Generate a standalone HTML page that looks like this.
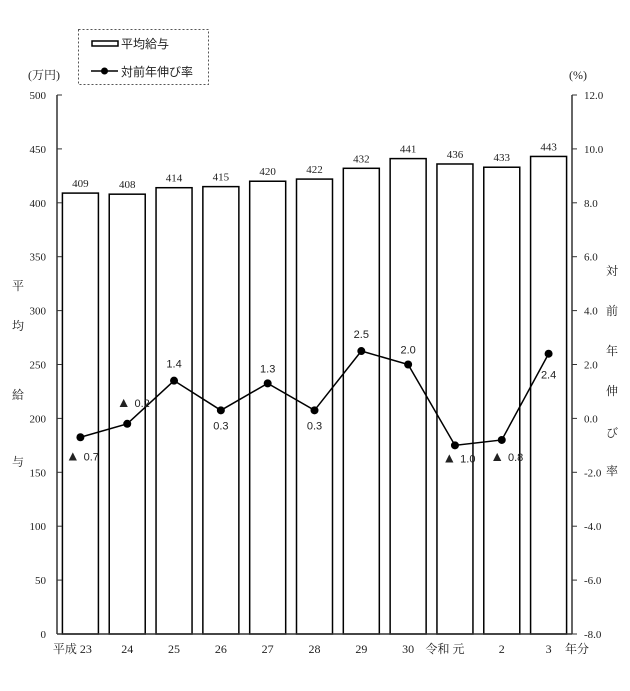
<!DOCTYPE html>
<html><head><meta charset="utf-8"><style>
body{margin:0;background:#fff}
svg text{font-family:"Liberation Serif","Noto Serif CJK SC",serif;fill:#222}
.s{font-family:"Liberation Sans","Noto Sans CJK JP",sans-serif}
</style></head><body>
<svg id="c" width="630" height="686" viewBox="0 0 630 686">
<g>
<rect x="78.5" y="29.5" width="130" height="55" fill="none" stroke="#555" stroke-dasharray="2,2"/>
<rect x="92" y="41" width="26" height="5" fill="#fff" stroke="#000" stroke-width="1.5"/>
<text x="121" y="48" font-size="12" class="s">平均給与</text>
<line x1="91" y1="71" x2="118" y2="71" stroke="#000" stroke-width="1.5"/>
<circle cx="104.5" cy="71" r="3.5" fill="#000"/>
<text x="121" y="76" font-size="12" class="s">対前年伸び率</text>
</g>
<text x="28" y="79" font-size="12">(万円)</text>
<text x="569" y="79" font-size="12">(%)</text>
<g font-size="12">
<text x="12" y="290">平</text><text x="12" y="330">均</text><text x="12" y="399">給</text><text x="12" y="466">与</text></g>
<g font-size="12">
<text x="606" y="275">対</text><text x="606" y="315">前</text><text x="606" y="355">年</text><text x="606" y="395">伸</text><text x="606" y="437">び</text><text x="606" y="475">率</text></g>
<g id="g"></g>
</svg>
<script>
const categories=["平成 23","24","25","26","27","28","29","30","令和 元","2","3"];
const salary=[409,408,414,415,420,422,432,441,436,433,443];
const growth=[-0.7,-0.2,1.4,0.3,1.3,0.3,2.5,2.0,-1.0,-0.8,2.4];
const leftTicks=[0,50,100,150,200,250,300,350,400,450,500];
const rightTicks=[-8,-6,-4,-2,0,2,4,6,8,10,12];
const labOff=[[2,19],[6,-21],[0,-17],[0,15],[0,-15],[0,15],[0,-17],[0,-15],[4,13],[5,17],[0,21]];
const L=57,R=572,T=95,B=634;
const yL=v=>B-(v/500)*(B-T);
const yR=v=>B-((v+8)/20)*(B-T);
const band=(R-L)/categories.length;
const xc=i=>L+band*(i+0.5);
const g=document.getElementById('g');
const NS='http://www.w3.org/2000/svg';
function mk(t,a,txt){const e=document.createElementNS(NS,t);for(const k in a)e.setAttribute(k,a[k]);if(txt!=null)e.textContent=txt;g.appendChild(e);return e;}
salary.forEach((v,i)=>{
 const r=mk('rect',{x:xc(i)-18,y:yL(v),width:36,height:B-yL(v),fill:'#fff',stroke:'#000','stroke-width':1.5});
 
 
 const t=mk('text',{x:xc(i),y:yL(v)-6,'font-size':11,'text-anchor':'middle'},String(v));
 
 
});
let a=mk('line',{x1:L,y1:T,x2:L,y2:B,stroke:'#333','stroke-width':1.5});


a=mk('line',{x1:R,y1:T,x2:R,y2:B,stroke:'#333','stroke-width':1.5});


a=mk('line',{x1:L,y1:B,x2:R,y2:B,stroke:'#333','stroke-width':1.5});


leftTicks.forEach(v=>{
 mk('line',{x1:L,y1:yL(v),x2:L+5,y2:yL(v),stroke:'#333'});
 const t=mk('text',{x:46,y:yL(v)+4,'font-size':11,'text-anchor':'end'},String(v));
 
 
});
rightTicks.forEach(v=>{
 mk('line',{x1:R,y1:yR(v),x2:R+5,y2:yR(v),stroke:'#333'});
 const t=mk('text',{x:584,y:yR(v)+4,'font-size':11},v.toFixed(1));
 
 
});
categories.forEach((c,i)=>{
 const x=i===0?xc(i)-8:i===8?xc(i)-10:xc(i);
 const t=mk('text',{x:x,y:653,'font-size':12,'text-anchor':'middle'},c);
 
 
});
let t=mk('text',{x:565,y:653,'font-size':12},'年分');


const pts=growth.map((v,i)=>xc(i)+','+yR(v)).join(' ');
const pl=mk('polyline',{points:pts,fill:'none',stroke:'#000','stroke-width':1.5});


growth.forEach((v,i)=>{
 const c=mk('circle',{cx:xc(i),cy:yR(v),r:4,fill:'#000'});
 
 
 const l=mk('text',{x:xc(i)+labOff[i][0],y:yR(v)+labOff[i][1]+4,'font-size':11,'text-anchor':'middle',class:'s'},null);
 if(v<0){const sp=document.createElementNS(NS,'tspan');sp.setAttribute('font-size','14');sp.textContent='▲ ';l.appendChild(sp);}
 l.appendChild(document.createTextNode(Math.abs(v).toFixed(1)));
 
 
});
</script>
</body></html>
